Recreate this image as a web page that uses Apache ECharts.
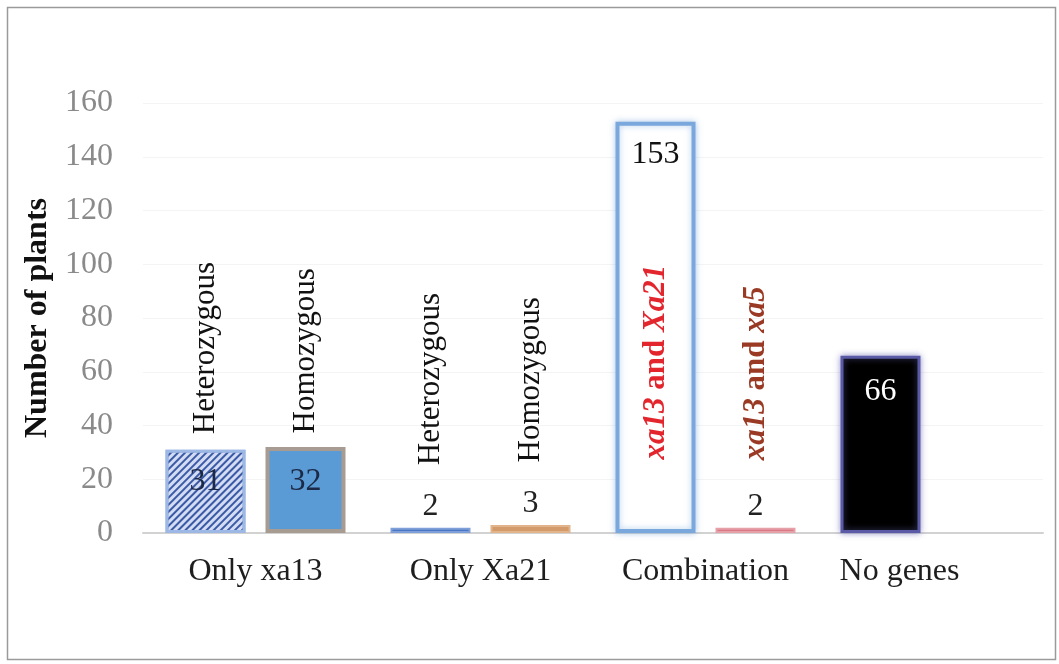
<!DOCTYPE html>
<html>
<head>
<meta charset="utf-8">
<script src="https://cdn.jsdelivr.net/npm/echarts@6/dist/echarts.min.js"></script>
<style>
  html, body { margin: 0; padding: 0; background: #fff; }
  #chart { width: 1059px; height: 664px; }
</style>
</head>
<body>
<div id="chart"></div>
<script>
// Plant counts per gene group
const categories = ['Only xa13', 'Only Xa21', 'Combination', 'No genes'];
const firstValues = [31, 2, 153, 66];      // heterozygous / xa13+Xa21 / no genes
const secondValues = [32, 3, 2, null];     // homozygous / xa13+xa5
const firstTags = ['Heterozygous', 'Heterozygous', '{i|xa13} {b|and} {i|Xa21}', null];
const secondTags = ['Homozygous', 'Homozygous', '{i|xa13} {b|and} {i|xa5}', null];
const yMin = 0, yMax = 160, yStep = 20;

const SERIF = '"Liberation Serif", "Times New Roman", serif';

// Bar appearance per item
const firstStyles = [
  { color: '#d3dcf3', borderColor: '#9db8e4', borderWidth: 3,
    decal: { symbol: 'rect', symbolSize: 1, color: '#3a5aa6', dashArrayX: [1, 0], dashArrayY: [2, 2.2], rotation: -Math.PI / 4 } },
  { color: '#4a74c4', borderColor: '#7f9fd8', borderWidth: 2 },
  { color: '#ffffff', borderColor: '#7aa8dc', borderWidth: 4, shadowBlur: 6, shadowColor: 'rgba(110,160,220,0.5)' },
  { color: '#000000', borderColor: '#5b5aa6', borderWidth: 3, shadowBlur: 6, shadowColor: 'rgba(100,100,180,0.6)' }
];
const secondStyles = [
  { color: '#5b9bd5', borderColor: '#a89c92', borderWidth: 4 },
  { color: '#d39a6c', borderColor: '#e2b48c', borderWidth: 2 },
  { color: '#d97a86', borderColor: '#e6a0a8', borderWidth: 2 },
  {}
];
// Value label placement per item
const firstLabels = [
  { position: 'inside', offset: [0, -10], color: '#1b2846' },
  { position: 'top', distance: 5, color: '#222' },
  { position: 'insideTop', distance: 17, color: '#111' },
  { position: 'insideTop', distance: 20, color: '#ffffff' }
];
const secondLabels = [
  { position: 'inside', offset: [0, -8], color: '#1b2846' },
  { position: 'top', distance: 5, color: '#222' },
  { position: 'top', distance: 5, color: '#222' },
  {}
];
// Rotated tag placement: anchored at bar top or at the baseline
const firstTagPlace = [{ at: 'top', d: 15 }, { at: 'top', d: 62 }, { at: 'base', d: 73, color: '#e3262e' }, null];
const secondTagPlace = [{ at: 'top', d: 13 }, { at: 'top', d: 62 }, { at: 'top', d: 67, color: '#9a3a24' }, null];

function barData(values, styles, labels) {
  return values.map((v, i) => v == null ? null : ({
    value: v,
    itemStyle: styles[i],
    label: Object.assign({ show: true, fontFamily: SERIF, fontSize: 32 }, labels[i])
  }));
}

function tagPoints(values, tags, places) {
  const pts = [];
  tags.forEach((t, i) => {
    if (!t) return;
    const p = places[i];
    const color = p.color || '#111';
    pts.push({
      coord: [i, p.at === 'base' ? yMin : values[i]],
      label: {
        show: true, position: 'top', distance: p.d, rotate: 90,
        align: 'left', verticalAlign: 'middle',
        formatter: t, fontFamily: SERIF, fontSize: 31, color: color,
        rich: {
          i: { fontFamily: SERIF, fontSize: 31, fontStyle: 'italic', fontWeight: 'bold', color: color },
          b: { fontFamily: SERIF, fontSize: 31, fontWeight: 'bold', color: color }
        }
      }
    });
  });
  return pts;
}

function markOf(values, tags, places) {
  return {
    symbol: 'circle', symbolSize: 1,
    itemStyle: { color: 'transparent' },
    silent: true,
    data: tagPoints(values, tags, places)
  };
}

const chart = echarts.init(document.getElementById('chart'), null, { renderer: 'canvas' });
chart.setOption({
  animation: false,
  backgroundColor: '#ffffff',
  graphic: [{
    type: 'rect', left: 5, top: 5, z: -1,
    shape: { width: 1048, height: 652 },
    style: { fill: 'none', stroke: '#9a9a9a', lineWidth: 1.5 }
  }],
  grid: { left: 143, right: 16, top: 103, bottom: 131 },
  xAxis: {
    type: 'category',
    data: categories,
    axisLine: { lineStyle: { color: '#d2d2d2', width: 2 } },
    axisTick: { show: false },
    axisLabel: {
      margin: 23, fontFamily: SERIF, fontSize: 32, color: '#1e1e1e', interval: 0,
      formatter: (v) => v === 'No genes' ? '{shift|' + v + '}' : v,
      rich: { shift: { fontFamily: SERIF, fontSize: 32, color: '#1e1e1e', padding: [0, 62, 0, 0] } }
    }
  },
  yAxis: {
    type: 'value', min: yMin, max: yMax, interval: yStep,
    name: 'Number of plants', nameLocation: 'middle', nameRotate: 90, nameGap: 76,
    nameTextStyle: { fontFamily: SERIF, fontSize: 32, fontWeight: 'bold', color: '#111' },
    axisLine: { show: false },
    axisTick: { show: false },
    splitLine: { lineStyle: { color: '#f4f4f4', width: 1 } },
    axisLabel: { margin: 30, fontFamily: SERIF, fontSize: 32, color: '#8a8a8a' }
  },
  series: [
    {
      name: 'first', type: 'bar', barWidth: 80, barGap: '25%',
      data: barData(firstValues, firstStyles, firstLabels),
      markPoint: markOf(firstValues, firstTags, firstTagPlace)
    },
    {
      name: 'second', type: 'bar', barWidth: 80, barGap: '25%',
      data: barData(secondValues, secondStyles, secondLabels),
      markPoint: markOf(secondValues, secondTags, secondTagPlace)
    }
  ]
});
</script>
</body>
</html>
